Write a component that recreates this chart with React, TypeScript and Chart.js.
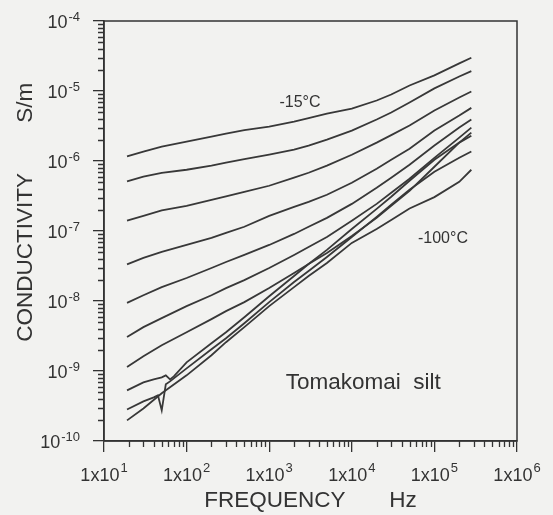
import React, { useEffect, useRef } from 'react';
import { Chart, registerables } from 'chart.js';

Chart.register(...registerables);

// ---- data ----
const FREQ = [19, 30, 50, 100, 200, 300, 500, 1000, 2000, 3000, 5000, 10000, 20000, 30000, 50000, 100000, 200000, 280000];
const FREQ_C8 = [19, 30, 40, 50, 56, 63, 70, 100, 200, 300, 500, 1000, 2000, 3000, 5000, 10000, 20000, 30000, 50000, 100000, 200000, 280000];
const FREQ_C9 = [19, 30, 40, 45, 50, 56, 63, 70, 100, 200, 300, 500, 1000, 2000, 3000, 5000, 10000, 20000, 30000, 50000, 100000, 200000, 280000];

const C1 = [1.16e-6, 1.36e-6, 1.60e-6, 1.89e-6, 2.23e-6, 2.46e-6, 2.76e-6, 3.10e-6, 3.66e-6, 4.10e-6, 4.76e-6, 5.61e-6, 7.31e-6, 8.91e-6, 1.20e-5, 1.67e-5, 2.48e-5, 2.99e-5];
const C2 = [5.11e-7, 5.96e-7, 6.79e-7, 7.50e-7, 8.57e-7, 9.46e-7, 1.06e-6, 1.23e-6, 1.45e-6, 1.66e-6, 2.02e-6, 2.72e-6, 3.91e-6, 4.92e-6, 6.84e-6, 1.09e-5, 1.61e-5, 1.92e-5];
const C3 = [1.41e-7, 1.64e-7, 1.97e-7, 2.29e-7, 2.79e-7, 3.13e-7, 3.63e-7, 4.43e-7, 5.77e-7, 6.79e-7, 8.57e-7, 1.23e-6, 1.83e-6, 2.34e-6, 3.21e-6, 5.26e-6, 8.07e-6, 9.84e-6];
const C4 = [3.34e-8, 4.12e-8, 5.02e-8, 6.32e-8, 7.96e-8, 9.40e-8, 1.15e-7, 1.64e-7, 2.21e-7, 2.61e-7, 3.29e-7, 4.89e-7, 7.76e-7, 1.04e-6, 1.50e-6, 2.72e-6, 4.46e-6, 5.74e-6];
const C5 = [9.42e-9, 1.21e-8, 1.58e-8, 2.13e-8, 2.96e-8, 3.61e-8, 4.55e-8, 6.32e-8, 9.08e-8, 1.15e-7, 1.54e-7, 2.44e-7, 4.14e-7, 5.77e-7, 8.85e-7, 1.66e-6, 3.00e-6, 3.91e-6];
const C6 = [3.07e-9, 4.23e-9, 5.69e-9, 8.45e-9, 1.21e-8, 1.53e-8, 1.99e-8, 2.96e-8, 4.55e-8, 5.92e-8, 8.22e-8, 1.40e-7, 2.44e-7, 3.52e-7, 5.57e-7, 1.11e-6, 2.16e-6, 3.00e-6];
const C7 = [1.14e-9, 1.63e-9, 2.33e-9, 3.58e-9, 5.51e-9, 7.16e-9, 9.64e-9, 1.53e-8, 2.51e-8, 3.38e-8, 4.85e-8, 8.51e-8, 1.54e-7, 2.29e-7, 3.75e-7, 8.28e-7, 1.83e-6, 2.54e-6];
const C8 = [5.28e-10, 6.89e-10, 7.60e-10, 8.13e-10, 8.67e-10, 7.60e-10, 8.39e-10, 1.33e-9, 2.49e-9, 3.58e-9, 5.87e-9, 1.17e-8, 2.28e-8, 3.38e-8, 5.37e-8, 1.07e-7, 2.07e-7, 3.08e-7, 5.22e-7, 1.04e-6, 1.83e-6, 2.30e-6];
const C9 = [2.82e-10, 3.68e-10, 4.20e-10, 4.49e-10, 2.74e-10, 6.44e-10, 7.11e-10, 7.85e-10, 1.09e-9, 2.05e-9, 2.94e-9, 4.82e-9, 9.64e-9, 1.87e-8, 2.68e-8, 4.26e-8, 8.22e-8, 1.59e-7, 2.37e-7, 3.88e-7, 7.03e-7, 1.11e-6, 1.37e-6];
const C10 = [1.97e-10, 2.92e-10, 4.80e-10, 8.67e-10, 1.68e-9, 2.58e-9, 4.23e-9, 8.45e-9, 1.58e-8, 2.28e-8, 3.49e-8, 6.76e-8, 1.07e-7, 1.44e-7, 2.10e-7, 3.05e-7, 5.05e-7, 7.50e-7];

const X_TICKS = [10, 100, 1000, 10000, 100000, 1000000];
const Y_TICKS = [1e-10, 1e-9, 1e-8, 1e-7, 1e-6, 1e-5, 1e-4];

const X_TITLE = 'FREQUENCY       Hz';
const Y_TITLE = '      CONDUCTIVITY        S/m';

const LABELS = [
  { text: '-15°C', f: 2360, v: 6.8e-6, size: 16 },
  { text: '-100°C', f: 127000, v: 7.7e-8, size: 16 },
  { text: 'Tomakomai  silt', f: 13800, v: 6.7e-10, size: 22.5 },
];

// ---- styling ----
const FONT = "'Liberation Sans', Arial, Helvetica, sans-serif";
const INK = '#333333';
const LINE = '#383838';
const BG = '#f2f2f0';
const MAJOR_LEN = 11;
const MINOR_LEN = 6;
const BASE_SIZE = 18;
const SUP_SIZE = 13;

const expOf = (v: number) => Math.round(Math.log10(v));

const series = [
  { name: '-15°C', f: FREQ, v: C1 },
  { name: 'T2', f: FREQ, v: C2 },
  { name: 'T3', f: FREQ, v: C3 },
  { name: 'T4', f: FREQ, v: C4 },
  { name: 'T5', f: FREQ, v: C5 },
  { name: 'T6', f: FREQ, v: C6 },
  { name: 'T7', f: FREQ, v: C7 },
  { name: 'T8', f: FREQ_C8, v: C8 },
  { name: 'T9', f: FREQ_C9, v: C9 },
  { name: '-100°C', f: FREQ, v: C10 },
];

const framePlugin = {
  id: 'frameAndMinor',
  afterDraw(chart: any) {
    const { ctx, chartArea: a, scales } = chart;
    const xs = scales.x;
    const ys = scales.y;
    ctx.save();
    ctx.strokeStyle = INK;
    ctx.lineWidth = 1.5;
    ctx.strokeRect(a.left, a.top, a.right - a.left, a.bottom - a.top);
    ctx.lineWidth = 1.3;
    ctx.beginPath();
    for (let d = 0; d < X_TICKS.length - 1; d++) {
      for (let k = 2; k <= 9; k++) {
        const px = Math.round(xs.getPixelForValue(X_TICKS[d] * k)) + 0.5;
        ctx.moveTo(px, a.bottom);
        ctx.lineTo(px, a.bottom + MINOR_LEN);
      }
    }
    for (let d = 0; d < Y_TICKS.length - 1; d++) {
      for (let k = 2; k <= 9; k++) {
        const py = Math.round(ys.getPixelForValue(Y_TICKS[d] * k)) + 0.5;
        ctx.moveTo(a.left, py);
        ctx.lineTo(a.left - MINOR_LEN, py);
      }
    }
    ctx.stroke();

    // tick labels with superscript exponents
    ctx.fillStyle = INK;
    ctx.textBaseline = 'alphabetic';
    for (const v of X_TICKS) {
      const px = xs.getPixelForValue(v);
      const base = '1x10';
      const ex = String(expOf(v));
      ctx.font = `${BASE_SIZE}px ${FONT}`;
      const bw = ctx.measureText(base).width;
      ctx.font = `${SUP_SIZE}px ${FONT}`;
      const sw = ctx.measureText(ex).width;
      const x0 = px - (bw + sw + 1) / 2;
      ctx.textAlign = 'left';
      ctx.font = `${BASE_SIZE}px ${FONT}`;
      ctx.fillText(base, x0, a.bottom + 40);
      ctx.font = `${SUP_SIZE}px ${FONT}`;
      ctx.fillText(ex, x0 + bw + 1, a.bottom + 31);
    }
    for (const v of Y_TICKS) {
      const py = ys.getPixelForValue(v);
      const ex = String(expOf(v));
      const right = a.left - 24;
      ctx.textAlign = 'right';
      ctx.font = `${SUP_SIZE}px ${FONT}`;
      const sw = ctx.measureText(ex).width;
      ctx.fillText(ex, right, py);
      ctx.font = `${BASE_SIZE}px ${FONT}`;
      ctx.fillText('10', right - sw - 1, py + 6.5);
    }

    ctx.textAlign = 'center';
    ctx.textBaseline = 'middle';
    for (const l of LABELS) {
      ctx.font = `${l.size}px ${FONT}`;
      ctx.fillText(l.text, xs.getPixelForValue(l.f), ys.getPixelForValue(l.v));
    }
    ctx.restore();
  },
};

export default function App() {
  const ref = useRef<HTMLCanvasElement | null>(null);
  useEffect(() => {
    if (!ref.current) return;
    const chart = new Chart(ref.current, {
      type: 'scatter',
      data: {
        datasets: series.map((s) => ({
          label: s.name,
          data: s.f.map((f, i) => ({ x: f, y: s.v[i] })),
          showLine: true,
          borderColor: LINE,
          borderWidth: 1.8,
          pointRadius: 0,
          tension: 0,
          fill: false,
        })),
      },
      options: {
        responsive: false,
        devicePixelRatio: 1,
        animation: false,
        layout: { padding: { top: 21, right: 36, bottom: 0, left: 0 } },
        plugins: { legend: { display: false }, tooltip: { enabled: false } },
        scales: {
          x: {
            type: 'logarithmic',
            min: 10,
            max: 1000000,
            afterFit: (s: any) => { s.height = 74; },
            afterBuildTicks: (s: any) => { s.ticks = X_TICKS.map((v) => ({ value: v })); },
            grid: { drawOnChartArea: false, drawTicks: true, tickLength: MAJOR_LEN, color: INK, lineWidth: 1.3 },
            border: { display: true, color: INK, width: 1.5 },
            ticks: { display: false, autoSkip: false, maxRotation: 0 },
            title: { display: true, text: X_TITLE, color: INK, font: { family: FONT, size: 22.5 }, padding: { top: 0, bottom: 0.5 } },
          },
          y: {
            type: 'logarithmic',
            min: 1e-10,
            max: 1e-4,
            afterFit: (s: any) => { s.width = 104; },
            afterBuildTicks: (s: any) => { s.ticks = Y_TICKS.map((v) => ({ value: v })); },
            grid: { drawOnChartArea: false, drawTicks: true, tickLength: MAJOR_LEN, color: INK, lineWidth: 1.3 },
            border: { display: true, color: INK, width: 1.5 },
            ticks: { display: false, autoSkip: false },
            title: { display: true, text: Y_TITLE, color: INK, font: { family: FONT, size: 22.5 }, padding: { top: 12.5, bottom: 0 } },
          },
        },
      },
      plugins: [framePlugin],
    } as any);
    return () => chart.destroy();
  }, []);
  return (
    <div style={{ position: 'fixed', left: 0, top: 0, width: 553, height: 515, background: BG }}>
      <canvas ref={ref} width={553} height={515} style={{ display: 'block', width: 553, height: 515 }} />
    </div>
  );
}
